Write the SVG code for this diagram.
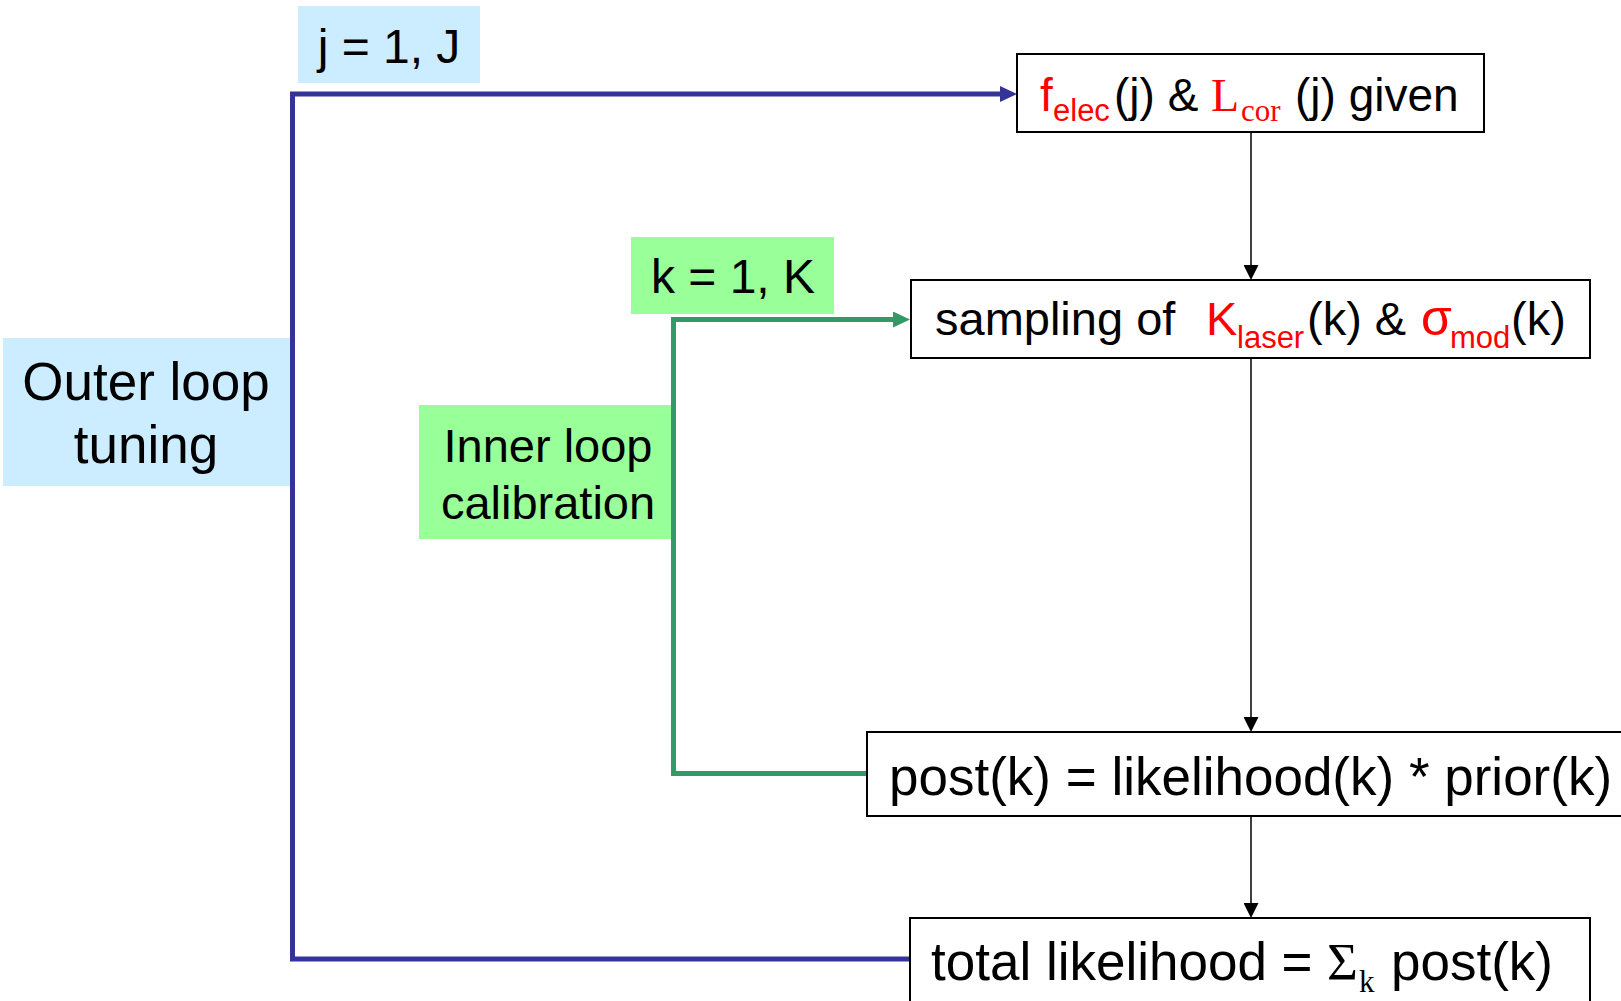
<svg xmlns="http://www.w3.org/2000/svg" width="1621" height="1001" viewBox="0 0 1621 1001">
<style>
text{font-family:"Liberation Sans",Arial,sans-serif;fill:#000}
.serif{font-family:"Liberation Serif","Times New Roman",serif}
.red{fill:#FF0000}
.f46{font-size:46px}
.f47b{font-size:47px}
.f53{font-size:53px}
.f48{font-size:48px}
.f47{font-size:47px}
.sub{font-size:31px}
.box{fill:#fff;stroke:#000;stroke-width:2}
.lblue{fill:#CCECFF}
.lgreen{fill:#99FF99}
.blk{fill:none;stroke:#000;stroke-width:1.5}
.blue{fill:none;stroke:#333399;stroke-width:5}
.green{fill:none;stroke:#339966;stroke-width:5}
</style>
<defs>
<marker id="ab" markerUnits="userSpaceOnUse" markerWidth="15" markerHeight="15" refX="2" refY="7.5" orient="auto"><path d="M0,0 L15,7.5 L0,15 z" fill="#000"/></marker>
<marker id="abl" markerUnits="userSpaceOnUse" markerWidth="17" markerHeight="16" refX="2" refY="8" orient="auto"><path d="M0,0 L17,8 L0,16 z" fill="#333399"/></marker>
<marker id="agr" markerUnits="userSpaceOnUse" markerWidth="17" markerHeight="16" refX="2" refY="8" orient="auto"><path d="M0,0 L17,8 L0,16 z" fill="#339966"/></marker>
</defs>
<rect width="1621" height="1001" fill="#fff"/>
<g id="label-j">
<rect class="lblue" x="298" y="6" width="182" height="77"/>
<text class="f48" x="389" y="63" text-anchor="middle">j = 1, J</text>
</g>
<g id="label-outer">
<rect class="lblue" x="3" y="338" width="287" height="148"/>
<text class="f53" x="146" y="400" text-anchor="middle">Outer loop</text>
<text class="f53" x="146" y="463" text-anchor="middle">tuning</text>
</g>
<g id="label-k">
<rect class="lgreen" x="631" y="237" width="203" height="77"/>
<text class="f48" x="733" y="293" text-anchor="middle">k = 1, K</text>
</g>
<g id="label-inner">
<rect class="lgreen" x="419" y="405" width="252" height="134"/>
<text class="f47" x="548" y="462" text-anchor="middle">Inner loop</text>
<text class="f47" x="548" y="519" text-anchor="middle">calibration</text>
</g>
<g id="connectors">
<path class="blue" d="M910,959 H292.5 V94 H1002" marker-end="url(#abl)"/>
<path class="green" d="M867,773.5 H673.5 V319.5 H895" marker-end="url(#agr)"/>
<path class="blk" d="M1251,132.7 V267" marker-end="url(#ab)"/>
<path class="blk" d="M1251,358.7 V719" marker-end="url(#ab)"/>
<path class="blk" d="M1251,817 V905" marker-end="url(#ab)"/>
</g>
<g id="node-given">
<rect class="box" x="1017" y="54" width="467" height="78"/>
<text class="f46" y="111"><tspan class="red" x="1040">f</tspan><tspan class="red sub" x="1053" y="121">elec</tspan><tspan x="1114" y="111">(j) &amp;</tspan><tspan class="serif red" x="1211" y="111">L</tspan><tspan class="serif red sub" x="1241" y="121">cor</tspan><tspan x="1295" y="111">(j) given</tspan></text>
</g>
<g id="node-sampling">
<rect class="box" x="911" y="280" width="679" height="78"/>
<text class="f47b" y="335"><tspan x="935">sampling of</tspan><tspan class="red" x="1206">K</tspan><tspan class="red sub" x="1237" y="348">laser</tspan><tspan x="1307" y="335">(k) &amp;</tspan><tspan class="red" x="1421" y="335" style="font-size:50px">σ</tspan><tspan class="red sub" x="1450" y="348">mod</tspan><tspan x="1511" y="335">(k)</tspan></text>
</g>
<g id="node-post">
<rect class="box" x="867" y="732" width="770" height="84"/>
<text class="f53" x="889" y="795">post(k) = likelihood(k) * prior(k)</text>
</g>
<g id="node-total">
<rect class="box" x="910" y="918" width="680" height="100"/>
<text class="f53" y="980"><tspan x="931">total likelihood =</tspan><tspan class="serif" x="1327">Σ</tspan><tspan class="serif sub" x="1359" y="992">k</tspan><tspan x="1391" y="980">post(k)</tspan></text>
</g>
</svg>
